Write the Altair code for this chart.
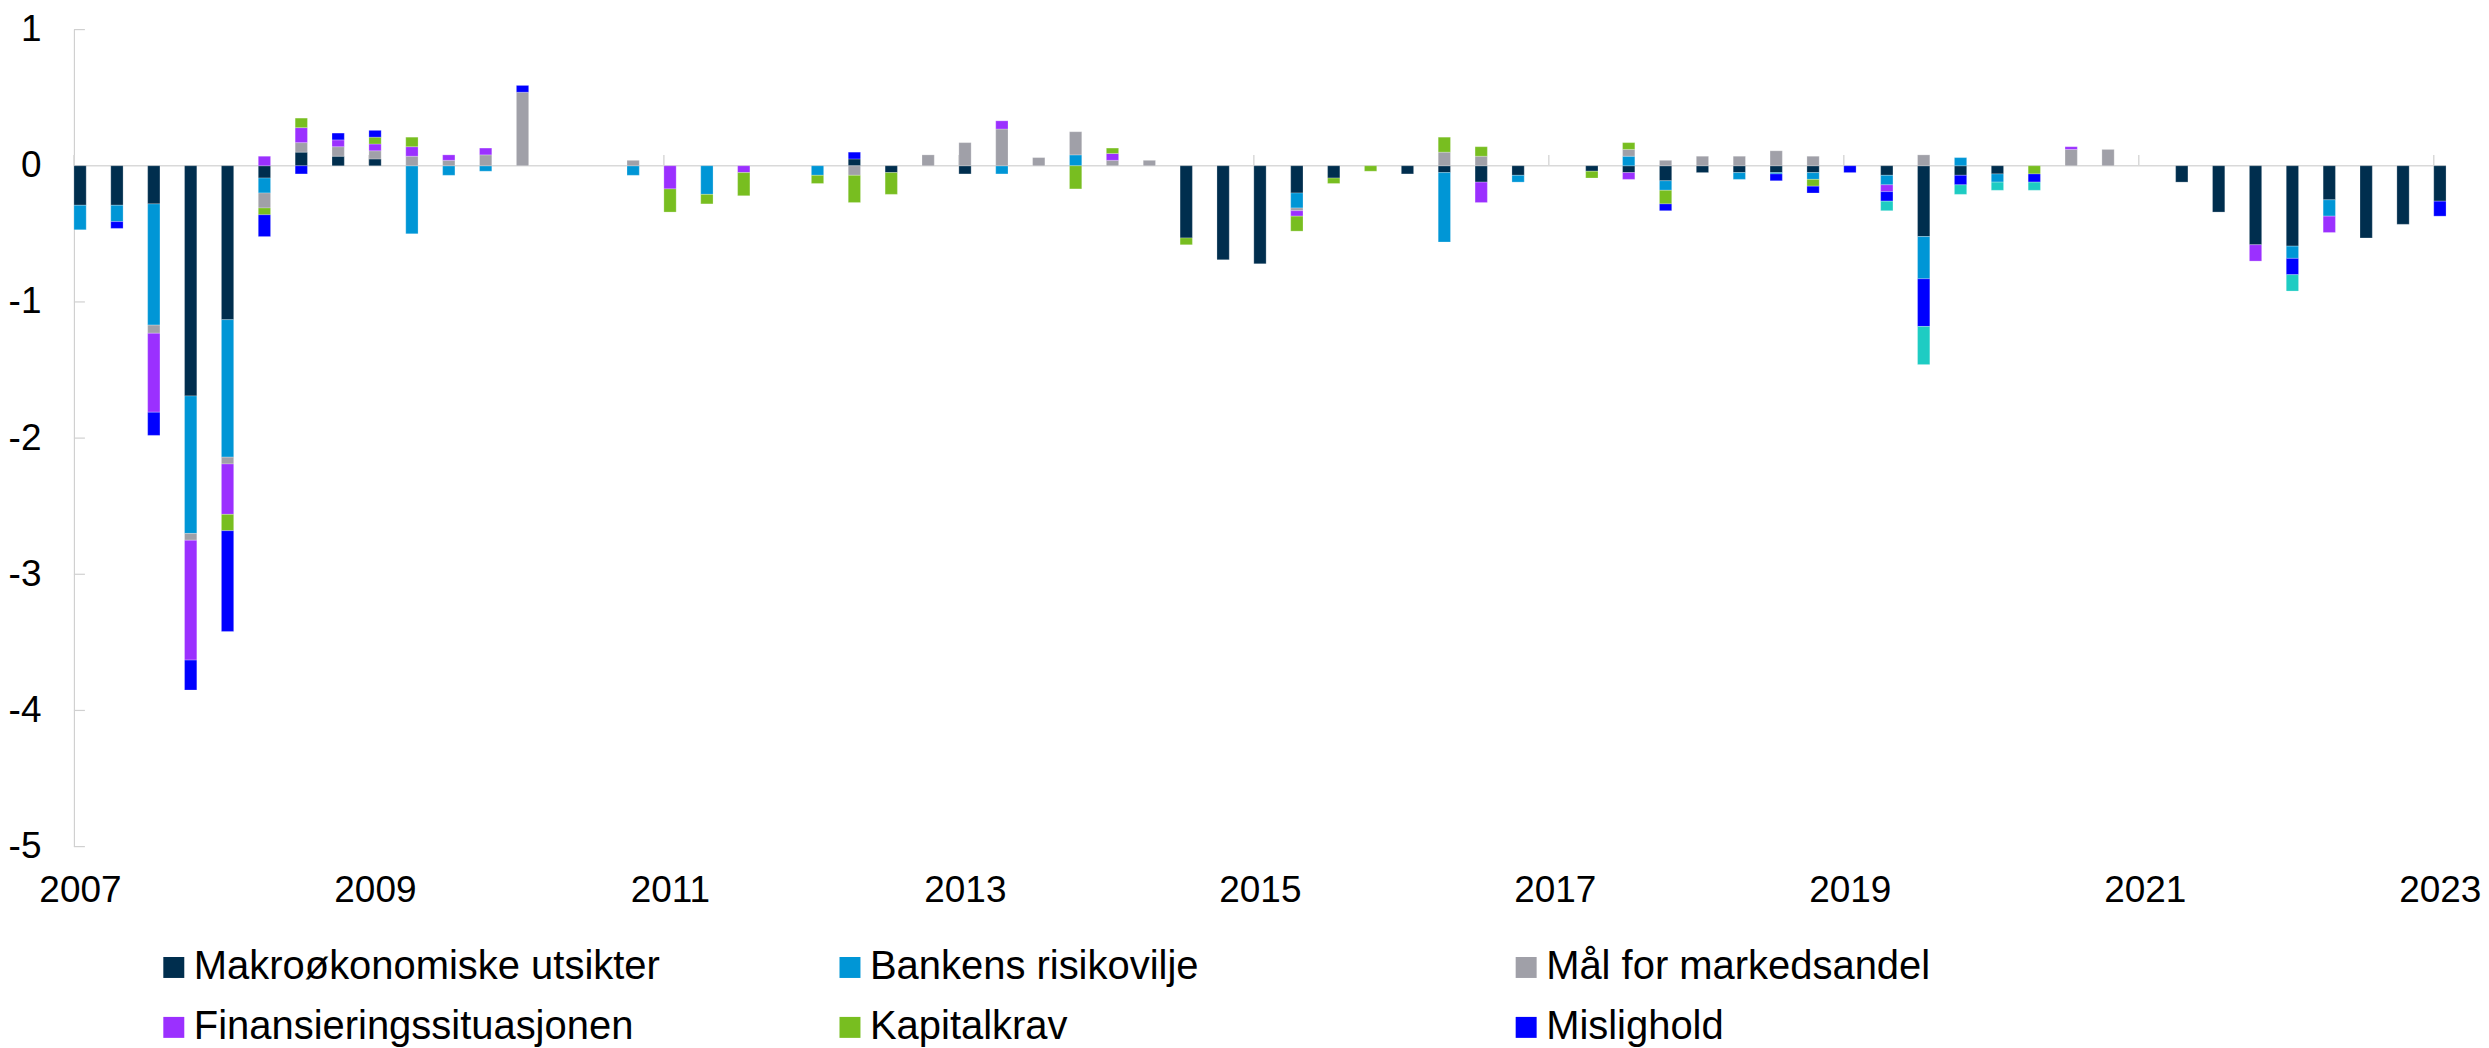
import altair as alt
import pandas as pd

# Periods: quarterly, 2007 Q1 .. 2023 Q1
years = list(range(2007, 2024))
periods = [(y, q) for y in years for q in (1, 2, 3, 4)][:65]

series_names = [
    "Makroøkonomiske utsikter",
    "Bankens risikovilje",
    "Mål for markedsandel",
    "Finansieringssituasjonen",
    "Kapitalkrav",
    "Mislighold",
    "Annet",
]
colors = ["#002E4E", "#0096D6", "#A0A0A8", "#9B30FF", "#78BE20", "#0000FF", "#1ECCC3"]

makro = [
    -0.29, -0.29, -0.28, -1.69,   # 2007
    -1.13, -0.09, 0.10, 0.07,     # 2008
    0.05, 0, 0, 0,                # 2009
    0, 0, 0, 0,                   # 2010
    0, 0, 0, 0,                   # 2011
    0, 0.05, -0.05, 0,            # 2012
    -0.06, 0, 0, 0,               # 2013
    0, 0, -0.53, -0.69,           # 2014
    -0.72, -0.20, -0.09, 0,       # 2015
    -0.06, -0.05, -0.12, -0.07,   # 2016
    0, -0.04, -0.05, -0.11,       # 2017
    -0.05, -0.05, -0.05, -0.05,   # 2018
    0, -0.07, -0.52, -0.07,       # 2019
    -0.06, 0, 0, 0,               # 2020
    0, -0.12, -0.34, -0.58,       # 2021
    -0.59, -0.25, -0.53, -0.43,   # 2022
    -0.26,                        # 2023
]
bankens = [
    -0.18, -0.12, -0.89, -1.01,
    -1.01, -0.11, 0, 0,
    0, -0.50, -0.07, -0.04,
    0, 0, 0, -0.07,
    0, -0.21, 0, 0,
    -0.07, 0, 0, 0,
    0, -0.06, 0, 0.08,
    0, 0, 0, 0,
    0, -0.11, 0, 0,
    0, -0.51, 0, -0.05,
    0, 0, 0.07, -0.07,
    0, -0.05, -0.01, -0.05,
    0, -0.07, -0.31, 0.06,
    -0.06, 0, 0, 0,
    0, 0, 0, 0,
    -0.09, -0.12, 0, 0,
    0,
]
maal = [
    0, 0, -0.06, -0.05,
    -0.05, -0.11, 0.07, 0.07,
    0.06, 0.07, 0.04, 0.08,
    0.54, 0, 0, 0.04,
    0, 0, 0, 0,
    0, -0.07, 0, 0.08,
    0.17, 0.27, 0.06, 0.17,
    0.04, 0.04, 0, 0,
    0, -0.02, 0, 0,
    0, 0.10, 0.07, 0,
    0, 0, 0.05, 0.04,
    0.07, 0.07, 0.11, 0.07,
    0, 0, 0.08, 0,
    0, 0, 0.12, 0.12,
    0, 0, 0, 0,
    0, 0, 0, 0,
    0,
]
finans = [
    0, 0, -0.58, -0.88,
    -0.37, 0.07, 0.11, 0.05,
    0.05, 0.07, 0.04, 0.05,
    0, 0, 0, 0,
    -0.17, 0, -0.05, 0,
    0, 0, 0, 0,
    0, 0.06, 0, 0,
    0.05, 0, 0, 0,
    0, -0.04, 0, 0,
    0, 0, -0.15, 0,
    0, 0, -0.05, 0,
    0, 0, 0, 0,
    0, -0.05, 0, 0,
    0, 0, 0.02, 0,
    0, 0, 0, -0.12,
    0, -0.12, 0, 0,
    0,
]
kapital = [
    0, 0, 0, 0,
    -0.12, -0.05, 0.07, 0,
    0.05, 0.07, 0, 0,
    0, 0, 0, 0,
    -0.17, -0.07, -0.17, 0,
    -0.06, -0.20, -0.16, 0,
    0, 0, 0, -0.17,
    0.04, 0, -0.05, 0,
    0, -0.11, -0.04, -0.04,
    0, 0.11, 0.07, 0,
    0, -0.05, 0.05, -0.10,
    0, 0, 0, -0.05,
    0, 0, 0, 0,
    0, -0.06, 0, 0,
    0, 0, 0, 0,
    0, 0, 0, 0,
    0,
]
mislighold = [
    0, -0.05, -0.17, -0.22,
    -0.74, -0.16, -0.06, 0.05,
    0.05, 0, 0, 0,
    0.05, 0, 0, 0,
    0, 0, 0, 0,
    0, 0.05, 0, 0,
    0, 0, 0, 0,
    0, 0, 0, 0,
    0, 0, 0, 0,
    0, 0, 0, 0,
    0, 0, 0, -0.05,
    0, 0, -0.05, -0.05,
    -0.05, -0.07, -0.35, -0.07,
    0, -0.06, 0, 0,
    0, 0, 0, 0,
    -0.12, 0, 0, 0,
    -0.11,
]
annet = [
    0, 0, 0, 0,
    0, 0, 0, 0,
    0, 0, 0, 0,
    0, 0, 0, 0,
    0, 0, 0, 0,
    0, 0, 0, 0,
    0, 0, 0, 0,
    0, 0, 0, 0,
    0, 0, 0, 0,
    0, 0, 0, 0,
    0, 0, 0, 0,
    0, 0, 0, 0,
    0, -0.07, -0.28, -0.07,
    -0.06, -0.06, 0, 0,
    0, 0, 0, 0,
    -0.12, 0, 0, 0,
    0,
]

tick_years = [2007, 2009, 2011, 2013, 2015, 2017, 2019, 2021, 2023]
y_ticks = [-5, -4, -3, -2, -1, 0, 1]

all_series = [makro, bankens, maal, finans, kapital, mislighold, annet]
rows = []
for si, (name, vals) in enumerate(zip(series_names, all_series)):
    for (y, q), v in zip(periods, vals):
        if v != 0:
            x = y + (q - 1) / 4
            rows.append({"x": x, "x2": x + 1 / 12, "serie": name, "value": v, "ord": si})
df = pd.DataFrame(rows)

FONT = "Liberation Sans"
x_end = 2023 + 1 / 12
xscale = alt.Scale(domain=[2007, x_end], nice=False, zero=False)
yscale = alt.Scale(domain=[-5, 1], nice=False)

x_axis = alt.Axis(
    values=tick_years, format="d", title=None, domain=False, ticks=False, grid=False,
    labelFontSize=37, labelFont=FONT, labelColor="black", labelPadding=26,
    labelOffset=6, labelFlush=False, labelOverlap=False,
)
y_axis = alt.Axis(
    values=y_ticks, labelExpr="datum.value + ''", title=None, grid=False, ticks=False,
    domainColor="#D0D0D0", domainWidth=1.2,
    labelFontSize=37, labelFont=FONT, labelColor="black", labelPadding=33,
)

zero_line = alt.Chart(pd.DataFrame({"x": [2007], "x2": [x_end], "y": [0]})).mark_rule(
    color="#D9D9D9", strokeWidth=1.5
).encode(
    x=alt.X("x:Q", scale=xscale, axis=x_axis),
    x2="x2:Q",
    y=alt.Y("y:Q", scale=yscale, axis=y_axis),
)

x_tick_marks = alt.Chart(pd.DataFrame({"x": tick_years, "y": [0] * len(tick_years), "y2": [0.08] * len(tick_years)})).mark_rule(
    color="#D9D9D9", strokeWidth=1.5
).encode(
    x=alt.X("x:Q", scale=xscale, axis=x_axis),
    y=alt.Y("y:Q", scale=yscale, axis=y_axis),
    y2="y2:Q",
)

y_tick_marks = alt.Chart(pd.DataFrame({"y": y_ticks, "x": [2007] * len(y_ticks), "x2": [2007.0745] * len(y_ticks)})).mark_rule(
    color="#D0D0D0", strokeWidth=1.2
).encode(
    x=alt.X("x:Q", scale=xscale, axis=x_axis),
    x2="x2:Q",
    y=alt.Y("y:Q", scale=yscale, axis=y_axis),
)

bars = alt.Chart(df).transform_stack(
    stack="value",
    as_=["y0", "y1"],
    groupby=["x"],
    sort=[alt.SortField("ord", order="ascending")],
    offset="zero",
).mark_bar(stroke="white", strokeWidth=0.8, strokeOpacity=0.3).encode(
    x=alt.X("x:Q", scale=xscale, axis=x_axis),
    x2="x2:Q",
    y=alt.Y("y0:Q", scale=yscale, axis=y_axis),
    y2="y1:Q",
    color=alt.Color(
        "serie:N",
        scale=alt.Scale(domain=series_names, range=colors),
        legend=alt.Legend(
            values=series_names[:6], title=None, orient="none", legendX=80, legendY=919,
            direction="horizontal", columns=3, gridAlign="all", columnPadding=170, rowPadding=20,
            symbolType="square", symbolSize=441, symbolStrokeWidth=0, symbolOpacity=1,
            labelFontSize=40, labelFont=FONT, labelColor="black", labelOffset=0, labelLimit=0,
            padding=0,
        ),
    ),
)

chart = alt.layer(zero_line, x_tick_marks, y_tick_marks, bars).properties(
    width=2375, height=818,
    padding={"left": 0, "top": 2, "right": 0, "bottom": 0},
    background="white",
).configure_view(stroke=None)

chart.save("out.html", embed_options={"renderer": "svg", "actions": False})
